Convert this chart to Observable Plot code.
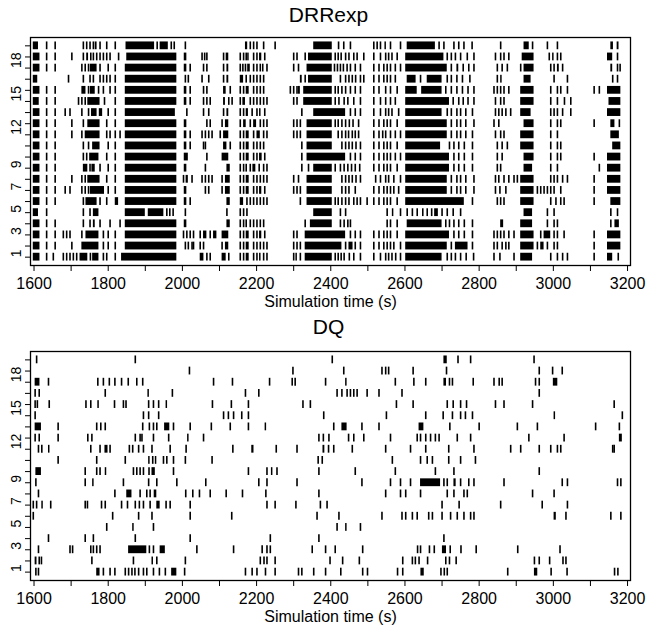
<!DOCTYPE html>
<html><head><meta charset="utf-8">
<script src="https://cdn.jsdelivr.net/npm/d3@7"></script>
<script src="https://cdn.jsdelivr.net/npm/@observablehq/plot@0.6"></script>
<style>
body{margin:0;background:#fff;font-family:"Liberation Sans",Arial,Helvetica,sans-serif;}
.title{width:657px;text-align:center;font-size:21px;color:#000;}
#t1{height:30px;line-height:30px;}
#t2{height:19px;line-height:19px;}
svg{display:block}
</style></head><body>
<div id="t1" class="title">DRRexp</div><div id="p1"></div>
<div id="t2" class="title">DQ</div><div id="p2"></div>
<script>
// Tick labels
const xTickLabels = [1600, 1800, 2000, 2200, 2400, 2600, 2800, 3000, 3200];
const xMinorTicks = [1700, 1900, 2100, 2300, 2500, 2700, 2900, 3100];
const yTicks = [1,2,3,4,5,6,7,8,9,10,11,12,13,14,15,16,17,18,19,20];
const yTickLabels = [1, 3, 5, 7, 9, 12, 15, 18];
const xTitle = "Simulation time (s)";

// Each row (index 0 = row 1): a number is a single event time, [start, end] is a dense burst of events
const drrRows = [
 [[1598,1616],1634,1652,1679,1688,1697,1706,1715,[1724,1745],1752,[1758,1775],1787,1796,1819,[1836,1985],[2048,2058],2066,2075,[2107,2118],2125,2156,2165,[2172,2180],2192,2201,[2208,2212],2219,2228,2300,[2306,2310],2318,[2331,2404],2412,2420,2428,2436,2450,2462,2480,2516,2534,2548,2556,2565,2575,2588,[2602,2700],2714,2725,2736,2750,2765,2785,2840,2856,2894,[2912,2944],2993,3011,3025,3038,3110,[3146,3160],3175],
 [[1598,1616],1634,1657,1702,[1729,1775],1787,1800,1819,[1846,1985],2008,2016,2026,2030,2048,2057,2107,[2116,2125],2156,2165,[2172,2180],2192,2201,2210,2219,2228,2300,2309,2318,[2331,2430],2440,[2449,2460],2466,2480,2516,2530,2543,2552,2561,2570,2588,[2602,2714],2725,[2736,2770],2782,2840,2849,2862,2872,2880,[2912,2948],2957,[2966,2975],2984,3002,3011,3110,[3146,3182]],
 [[1598,1616],1634,1657,1679,1688,1697,1729,[1740,1775],1787,1800,1819,[1846,1985],2003,2012,2021,2030,2048,[2057,2066],2075,[2084,2093],[2107,2125],2156,2165,[2172,2180],2192,2201,[2208,2214],2222,2300,2309,[2331,2440],2453,2466,2480,2516,2530,2543,2552,2561,2579,[2602,2720],2732,2745,2760,2782,2840,2849,2858,2867,2880,2894,[2912,2948],2966,[2975,2993],3002,3011,3029,3110,[3146,3182]],
 [[1598,1616],1634,1657,1733,1751,[1760,1765],1778,1805,1832,[1846,1985],[2005,2012],[2120,2129],2156,2165,2172,2183,2192,2201,2210,2219,2331,[2345,2404],2426,2436,2446,2453,2552,2561,2579,[2606,2700],2710,2720,2732,2745,2760,2782,[2858,2866],[2912,2944],2984,3002,3011,3155,[3166,3178]],
 [[1598,1612],1634,1733,1751,[1760,1775],[1846,1900],[1908,1950],1958,1966,1975,2008,2120,2156,2165,2174,[2354,2404],2426,2440,2552,[2566,2570],2588,2606,2620,2633,2648,2660,2672,[2680,2690],2700,2714,2730,2750,[2921,2944],2984,3002,3155,3173],
 [[1598,1616],1634,1657,1733,[1740,1770],1778,1796,[1819,1828],[1846,1985],[2005,2012],2021,[2120,2129],[2156,2165],2174,2183,2192,2201,2210,2219,2228,2318,[2336,2404],2412,2420,2430,2440,2449,2462,2471,2480,2498,2516,2530,2543,2552,2561,2579,[2602,2760],2782,2849,2858,2867,[2912,2948],2993,3007,3020,3029,3110,[3155,3182]],
 [[1598,1616],1634,1657,1684,1697,1729,1738,1747,[1752,1790],1800,1819,[1846,1985],[2005,2012],2062,2071,2107,[2116,2129],2156,2165,[2172,2180],2192,2201,[2208,2214],2222,2300,2309,2318,[2336,2404],2430,2440,2449,2466,2516,2530,2543,2552,2561,2570,2583,[2602,2714],2725,2740,2750,2764,2786,2844,2856,2872,[2912,2948],2957,2966,2975,2984,2993,3002,3020,3110,[3146,3182]],
 [[1598,1616],1634,1657,1702,1729,1738,[1745,1778],1796,1819,[1846,1985],2003,[2010,2016],2026,2053,2062,2071,2080,2107,[2116,2129],2156,2165,[2172,2180],2192,2201,2210,2219,2228,2300,2313,[2336,2404],2430,2440,2449,2458,2468,2480,2521,2534,2548,2556,2570,2588,[2602,2714],2725,2740,2750,2764,2786,2844,2853,2867,2880,2894,2903,[2912,2948],2993,3002,3011,3025,3038,3110,[3146,3182]],
 [[1598,1616],1634,1657,[1733,1745],1751,[1756,1765],1778,1800,1819,[1846,1985],[2005,2012],2062,[2120,2129],2156,2165,2172,2183,[2190,2198],2207,2219,2228,2322,2340,[2354,2404],2412,2426,2436,2446,2456,2466,2478,2516,2530,2543,2552,2561,2579,[2602,2720],2732,2745,2760,2782,2849,2858,[2921,2944],2993,3011,3124,[3146,3182]],
 [[1598,1616],1634,1657,1733,1742,[1750,1775],1796,1819,[1846,1985],[2005,2016],2066,[2107,2125],2156,2165,[2172,2180],2192,2201,[2208,2215],2222,2322,[2336,2440],2453,2466,2480,2516,2530,2543,2552,2561,2574,2588,[2602,2720],2732,2745,2760,2782,2849,2862,[2921,2948],2993,3011,3020,3110,[3146,3182]],
 [[1598,1616],1634,1657,1733,1747,[1758,1778],1800,1819,[1846,1985],[2005,2012],2021,2057,2062,[2111,2120],2129,2156,2165,[2172,2180],2192,2201,2210,2219,2322,[2336,2404],2430,2440,2449,2458,2468,2480,2516,2530,2543,2552,2561,2579,[2602,2696],2720,2732,2745,2760,2782,2849,2862,2876,[2912,2948],2993,3011,3020,[3160,3182]],
 [[1598,1616],1634,1657,1702,1729,[1738,1778],1796,1805,1819,1832,[1846,1985],[2005,2012],2021,2053,2062,2071,2080,2102,[2111,2125],2156,2165,[2172,2180],2192,[2201,2210],2219,2228,2300,2309,2318,[2336,2404],2420,2430,2440,2448,2458,2466,2475,2516,2530,2540,2548,2561,2574,2588,[2602,2714],2725,2740,2750,2764,2782,2844,2858,2867,[2912,2948],2993,3011,[3155,3178]],
 [[1598,1616],1634,1657,1702,1733,[1745,1778],1796,1819,[1846,1985],[2005,2012],2066,2075,2107,[2116,2125],2156,[2165,2172],2183,[2192,2200],2210,2219,2228,2300,2309,2318,[2336,2404],2412,2420,2430,2440,2450,2460,2475,2516,2530,2543,2552,2561,2579,[2602,2714],2725,2740,2750,2764,2786,2840,2853,[2921,2948],2993,3011,3020,3110,[3155,3166],3178],
 [[1598,1616],1634,1657,1684,1697,1729,1747,[1755,1770],[1776,1785],1800,1819,[1846,1981],2012,2057,2071,2111,[2120,2125],2156,2165,[2172,2178],2188,2201,[2208,2212],2222,2322,[2354,2440],2453,2466,2480,2516,2534,2548,2556,2565,2583,[2602,2700],2714,2725,2740,2750,2764,2782,2844,2853,2862,2872,2885,[2912,2940],2993,3002,3011,3025,3047,[3146,3182]],
 [[1598,1614],1634,1657,1720,1729,1738,[1745,1778],1790,1819,[1846,1985],[2005,2012],2021,2057,2066,2075,[2111,2116],2125,2134,2156,[2163,2170],2183,2192,2201,2210,2219,2228,2300,2309,[2327,2404],2412,2422,2436,2446,2462,2480,2516,2534,2548,2561,2574,[2602,2720],2730,2745,2757,2770,2786,2844,2858,2867,[2912,2948],2993,3011,3030,3047,[3150,3182]],
 [[1598,1616],1634,1657,[1729,1740],1747,[1752,1765],1774,1787,1805,1819,[1846,1985],[2005,2012],2021,2057,2066,[2111,2118],2129,2156,2165,[2172,2180],2192,2201,2210,2219,2291,2300,2309,[2313,2318],[2327,2404],2412,2420,2430,2440,2453,2466,2480,2516,2530,2548,2561,2579,[2602,2633],[2645,2700],2710,2725,2740,2755,2770,2786,2840,2849,2858,2867,2880,[2912,2948],2993,3011,3020,3038,3110,3124,[3146,3182]],
 [[1598,1610],1693,1733,1751,1760,1778,1787,1796,1805,1819,[1846,1985],2008,2016,2053,2071,2111,[2120,2125],[2156,2165],2172,2183,2192,2201,2210,2219,[2318,2323],2331,[2340,2404],2426,2440,2449,2458,2467,2480,2489,2516,2530,2543,2552,2561,2574,[2606,2630],2642,[2660,2700],2714,2725,2740,2755,2775,2849,[2858,2862],[2921,2940],3002,3038,3160,3173],
 [[1598,1616],1634,1657,1729,1738,1747,[1752,1770],1778,1800,1819,[1846,1985],[2005,2012],2021,2057,2066,2111,[2120,2125],2156,2163,2170,[2176,2183],2192,2201,2210,[2216,2220],2228,2300,2313,[2336,2404],2410,2418,2426,2434,2444,2453,2466,2480,2516,2530,2543,2552,2561,2574,2588,[2602,2714],2725,[2740,2745],2757,2772,2786,2849,2862,2876,2912,[2921,2948],2993,3002,[3011,3016],3025,[3155,3160],3173,3180],
 [[1598,1616],1634,1657,1702,1733,[1742,1747],1753,1760,1769,1778,1787,1796,1805,1828,[1850,1985],[2005,2012],2053,2060,2066,2111,[2118,2125],2156,2165,2172,[2176,2180],2192,2201,[2208,2214],2222,2300,2309,2331,[2340,2404],2412,2420,2428,2440,2449,2462,2471,2489,2516,2534,2548,2556,2565,2579,[2602,2705],2714,2725,2736,2750,2768,2786,2844,2858,2867,2880,[2916,2948],2989,[2998,3002],3011,3020,[3146,3160],3173],
 [[1598,1612],1634,1657,1733,1742,1751,1760,[1765,1770],1778,1796,1819,[1848,1925],1932,[1940,1962],1970,1978,2008,[2170,2176],2183,2192,2201,2219,2250,[2354,2404],2421,2435,2453,2516,2525,2534,[2546,2550],2561,2588,[2606,2682],2692,2705,2732,2745,2759,2781,2858,[2921,2935],2944,2984,3011,[3155,3162],[3172,3177]]
];

const dqRows = [
 [1605,1612,[1769,1778],1787,1805,1818,1846,1855,1864,1872,1882,1895,1904,1922,1938,1954,[1971,1985],2006,2170,2188,2201,2224,2250,2313,2322,2354,2386,2427,2486,2499,2580,2594,[2643,2652],2697,2706,2714,2877,[2949,2958],2994,3037,3165,3174],
 [[1603,1608],1614,1620,1756,1868,[1918,1922],1931,2008,2210,2220,2228,2250,2398,2432,2477,2594,2620,2628,2638,2661,2710,2720,2738,2949,2962,2990,3026,3034],
 [1612,1697,1704,1753,1760,1769,1778,[1855,1904],1911,1922,[1940,1954],2039,2138,2215,2228,2237,2350,2386,2412,2486,2634,2642,2666,2679,[2701,2712],2722,2751,2792,2904,3018],
 [1639,1738,1760,1873,2021,2237,2368,2705],
 [1796,[1866,1870],1922,2417,[2440,2444],2480],
 [1598,1812,1882,1918,2021,2133,2363,2422,2538,2592,2602,2620,2633,2664,2674,2700,2723,2741,2759,2777,2786,[3002,3008],3034,3155,3182],
 [1598,1607,[1621,1625],1645,1738,1744,1782,1792,1836,1852,1873,1884,1895,1913,[1931,1940],1956,1967,2021,2228,2250,2306,2372,2390,2700,2746,2858,2970,3038],
 [1612,1818,[1850,1864],1886,1904,1913,[1924,1931],2009,2028,2046,2075,2118,2162,2225,2368,2548,2588,2602,2642,2714,2732,2759,2768,2944,3002],
 [1605,1738,[1758,1762],1841,1909,1931,1985,2063,2206,2228,2309,2484,2561,2588,2615,[2642,2696],2705,2714,[2732,2738],2750,2772,2786,2867,3024,3038,3173,3182],
 [[1605,1620],1738,1769,1778,[1792,1796],1868,1877,1886,1895,1910,[1918,1927],1976,2178,2228,[2240,2244],2255,2368,2466,2574,2682,2732,2962],
 [1665,1769,1846,[1909,1913],1920,[1927,1931],1949,1958,1976,2008,2080,2366,2377,2566,2642,2660,2674,2718,2750,2790],
 [1612,1621,[1639,1643],1753,1778,1792,1796,1805,1857,1866,1882,1895,1918,1967,2010,2136,[2187,2193],2253,2309,[2379,2384],2394,2408,2458,2548,2615,2656,2718,2786,2885,2912,2962,2993,3011,3020,3160,3164],
 [1603,1614,1665,1745,1756,1873,1886,1891,1922,1963,[2014,2018],2057,2368,2380,2395,2448,2462,2489,2561,2633,2642,2656,2669,2682,2692,2741,2777,2934,3029,[3178,3186]],
 [[1603,1620],1665,1769,1780,1792,1893,1911,1922,1931,[1952,1966],1976,2021,2078,2129,2178,[2223,2227],2408,[2430,2444],2484,2530,[2638,2651],2721,2800,2903,2957,3114,3178],
 [1603,1895,1909,1936,2111,2124,2138,2160,2178,2381,2550,2656,2703,2728,2750,2763,2782,[3002,3006],3186],
 [1603,1609,1641,1740,1753,[1772,1776],1817,1841,1848,1909,1922,1936,[1956,1960],2081,2132,2178,2325,2345,2577,2622,2714,2730,2750,2766,2844,2867,2944,3164],
 [1603,1614,1792,[1907,1911],1973,2170,2206,2417,2430,2444,2453,2462,2471,2498,2530,2592,2962],
 [[1603,1616],1639,1772,1787,1803,1818,1836,1854,1877,1893,2084,2135,2235,2296,2304,2386,[2440,2444],2574,2624,2656,[2705,2712],2720,2728,2784,2840,2854,2862,2952,2962,[3000,3012]],
 [2019,2298,2435,2538,2548,2556,2622,2712,2962,2998,3024],
 [1607,1873,2404,[2705,2714],2743,2777,2948]
];

const FONT = '"Liberation Sans", Arial, Helvetica, sans-serif';
const xAllTicks = xTickLabels.concat(xMinorTicks).sort((a, b) => a - b);

function panel(rows, height, mt, mb) {
  const spikes = [], bursts = [];
  rows.forEach((items, i) => items.forEach(v => {
    if (Array.isArray(v)) bursts.push({row: i + 1, t1: v[0], t2: v[1]});
    else spikes.push({row: i + 1, t: v});
  }));
  const h = 0.35;
  return Plot.plot({
    width: 657, height,
    marginLeft: 30, marginRight: 27, marginTop: mt, marginBottom: mb,
    style: {fontFamily: FONT, fontSize: "16px", color: "black", background: "white"},
    x: {domain: [1590.5, 3208]},
    y: {domain: [0.25, 20.75]},
    marks: [
      Plot.rect(bursts, {x1: "t1", x2: "t2", y1: d => d.row - h, y2: d => d.row + h, fill: "black"}),
      Plot.ruleX(spikes, {x: "t", y1: d => d.row - h, y2: d => d.row + h, stroke: "black", strokeWidth: 1.6}),
      Plot.frame({stroke: "black", strokeWidth: 1.3}),
      Plot.axisX({ticks: xAllTicks, tickSize: 6, tickPadding: 6, label: null, fontSize: 16,
        tickFormat: d => xTickLabels.includes(d) ? String(d) : ""}),
      Plot.axisY({ticks: yTicks, tickSize: 5, label: null, tickFormat: () => ""}),
      Plot.text(yTickLabels, {y: d => d, text: d => String(d), frameAnchor: "left", dx: -14, rotate: -90, fontSize: 14}),
      Plot.text([xTitle], {text: d => d, frameAnchor: "bottom", dy: 41, fontSize: 16})
    ]
  });
}

document.getElementById("p1").appendChild(panel(drrRows, 287, 7, 52));
document.getElementById("p2").appendChild(panel(dqRows, 294, 15, 50));
</script>
</body></html>
